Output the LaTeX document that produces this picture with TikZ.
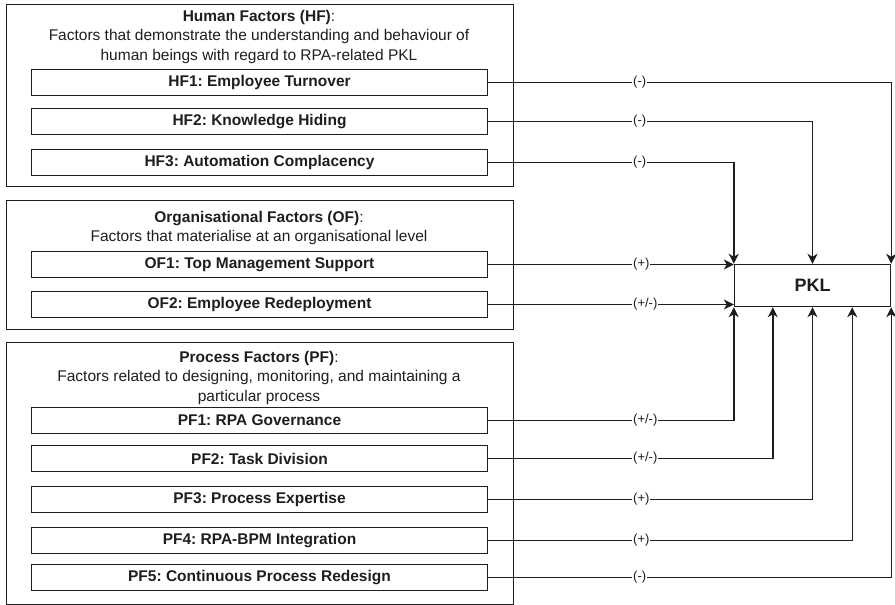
\documentclass[tikz,border=0pt]{standalone}
\usepackage{fontspec}
\setmainfont{Liberation Sans}
\usetikzlibrary{arrows.meta}
\definecolor{ink}{HTML}{1E1E1E}
\frenchspacing
\begin{document}
\begin{tikzpicture}[x=1pt,y=-1pt,
  outline/.style={draw=ink, line width=1.4pt},
  grp/.style={outline, rectangle, minimum width=507pt, anchor=north west, inner sep=0pt},
  factor/.style={outline, rectangle, minimum width=456pt, minimum height=26pt, inner sep=0pt,
    text=ink, font=\fontsize{15.5}{18}\selectfont\bfseries},
  grptext/.style={align=center, anchor=north, inner sep=0pt, text=ink,
    font=\fontsize{15.5}{19.5}\selectfont},
  link/.style={draw=ink, line width=1.4pt, -{Stealth[length=10pt,width=10pt,inset=3pt]}},
  sign/.style={fill=white, inner sep=1pt, anchor=west, text=ink,
    font=\fontsize{13}{15}\selectfont},
  target/.style={outline, rectangle, minimum width=156pt, minimum height=42pt, inner sep=0pt,
    text=ink, font=\fontsize{18}{20}\selectfont\bfseries}
]
\useasboundingbox (0,0) rectangle (895,605);

% group frames
\node[grp, minimum height=182pt] (hf) at (5.5,3.5) {};
\node[grp, minimum height=129pt] (of) at (5.5,199.5) {};
\node[grp, minimum height=262pt] (pf) at (5.5,341.5) {};

% group headings
\node[grptext] (hftxt) at (259,10) {\textbf{Human Factors (HF)}:\\
  Factors that demonstrate the understanding and behaviour of\\
  human beings with regard to RPA-related PKL};
\node[grptext] (oftxt) at (259,211) {\textbf{Organisational Factors (OF)}:\\
  Factors that materialise at an organisational level};
\node[grptext] (pftxt) at (259,351) {\textbf{Process Factors (PF)}:\\
  Factors related to designing, monitoring, and maintaining a\\
  particular process};

% factors
\node[factor] (hf1) at (259.5,82.5)  {HF1: Employee Turnover};
\node[factor] (hf2) at (259.5,121.5) {HF2: Knowledge Hiding};
\node[factor] (hf3) at (259.5,162.5) {HF3: Automation Complacency};
\node[factor] (of1) at (259.5,264.5) {OF1: Top Management Support};
\node[factor] (of2) at (259.5,304.5) {OF2: Employee Redeployment};
\node[factor] (pf1) at (259.5,420.5) {PF1: RPA Governance};
\node[factor] (pf2) at (259.5,458.5) {PF2: Task Division};
\node[factor] (pf3) at (259.5,499.5) {PF3: Process Expertise};
\node[factor] (pf4) at (259.5,540.5) {PF4: RPA-BPM Integration};
\node[factor] (pf5) at (259.5,577.5) {PF5: Continuous Process Redesign};

% outcome
\node[target] (pkl) at (812.5,285.5) {PKL};

% connectors
\draw[link] (hf1.east) -| (pkl.north east);
\draw[link] (hf2.east) -| (pkl.north);
\draw[link] (hf3.east) -| (pkl.north west);
\draw[link] (of1.east) -- (of1.east -| pkl.west);
\draw[link] (of2.east) -- (of2.east -| pkl.west);
\draw[link] (pf1.east) -| (pkl.south west);
\draw[link] (pf2.east) -| ([xshift=39pt]pkl.south west);
\draw[link] (pf3.east) -| (pkl.south);
\draw[link] (pf4.east) -| ([xshift=-39pt]pkl.south east);
\draw[link] (pf5.east) -| (pkl.south east);

% effect signs
\coordinate (signx) at (632,0);
\node[sign] (s1)  at (signx |- hf1.east) {(-)};
\node[sign] (s2)  at (signx |- hf2.east) {(-)};
\node[sign] (s3)  at (signx |- hf3.east) {(-)};
\node[sign] (s4)  at (signx |- of1.east) {(+)};
\node[sign] (s5)  at (signx |- of2.east) {(+/-)};
\node[sign] (s6)  at (signx |- pf1.east) {(+/-)};
\node[sign] (s7)  at (signx |- pf2.east) {(+/-)};
\node[sign] (s8)  at (signx |- pf3.east) {(+)};
\node[sign] (s9)  at (signx |- pf4.east) {(+)};
\node[sign] (s10) at (signx |- pf5.east) {(-)};
\end{tikzpicture}
\end{document}
